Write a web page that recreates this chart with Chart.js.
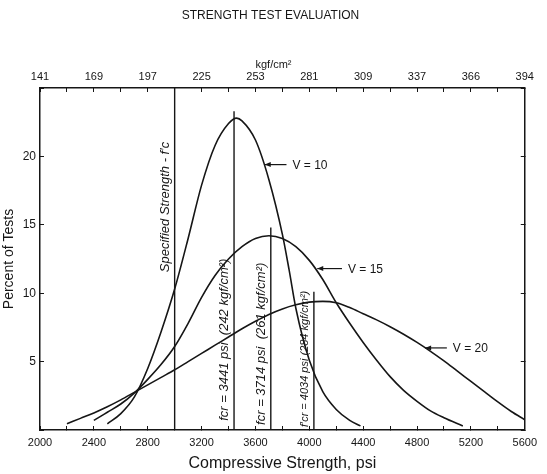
<!DOCTYPE html>
<html>
<head>
<meta charset="utf-8">
<script src="https://cdn.jsdelivr.net/npm/chart.js@4.4.1/dist/chart.umd.min.js"></script>
<style>
html,body{margin:0;padding:0;background:#fff;}
#wrap{width:547px;height:474px;}
</style>
</head>
<body>
<div id="wrap"><canvas id="strengthChart" width="547" height="474"></canvas></div>
<script>
// psi values, percent of tests for each curve
const v10Psi=[2500,2600,2700,2800,2900,3000,3100,3200,3300,3400,3460,3500,3600,3700,3800,3850,3900,4000,4100,4200,4300,4380];
const v10Pct=[0.45,1.2,2.4,4.5,7.2,10.3,14.0,17.9,20.8,22.4,22.8,22.6,21.2,18.3,14.3,11.7,8.9,5.1,2.8,1.5,0.7,0.3];

const v15Psi=[2400,2500,2600,2700,2800,2900,3000,3100,3200,3300,3400,3500,3600,3700,3800,3900,4000,4100,4200,4300,4400,4500,4600,4700,4800,4900,5000,5140];
const v15Pct=[0.7,1.3,1.9,2.7,3.7,4.8,6.1,7.8,9.7,11.3,12.5,13.4,14.0,14.2,14.0,13.4,12.4,11.0,9.3,7.8,6.4,5.1,3.9,2.9,2.1,1.4,0.9,0.3];

const v20Psi=[2200,2300,2400,2500,2600,2700,2800,2900,3000,3100,3200,3300,3400,3500,3600,3700,3800,3900,4000,4100,4200,4300,4400,4500,4600,4700,4800,4900,5000,5100,5200,5300,5400,5500,5600];
const v20Pct=[0.45,0.85,1.25,1.7,2.2,2.75,3.3,3.85,4.4,5.0,5.6,6.2,6.8,7.4,7.95,8.45,8.85,9.15,9.35,9.4,9.3,8.95,8.5,8.05,7.55,7.0,6.4,5.75,5.05,4.3,3.55,2.8,2.05,1.35,0.75];

// vertical lines: specified strength and required average strengths
const markerPsi=[3000,3441,3714,4034];
const markerTop=[25,23.3,14.8,10.1];
const markerText=["Specified Strength - f′c","fcr = 3441 psi  (242 kgf/cm²)","fcr = 3714 psi  (261 kgf/cm²)","f′cr = 4034 psi (284 kgf/cm²)"];
const markerTextMid=[16.3,6.6,6.3,5.2];

// curve labels: arrow tip on the curve and where the text starts
const curveNames=["V = 10","V = 15","V = 20"];
const curveTipPsi=[3669,4059,4860];
const curveTipPct=[19.4,11.8,6.0];
const curveTextPsi=[3875,4287,5066];

const psiTicks=[2000,2400,2800,3200,3600,4000,4400,4800,5200,5600];
const kgfTicks=[141,169,197,225,253,281,309,337,366,394];

function pts(xs,ys){ return xs.map((x,i)=>({x:x,y:ys[i]})); }

const ink="#161616";
const font="'Liberation Sans', Arial, sans-serif";

let datasets=[
  {data:pts(v10Psi,v10Pct)},
  {data:pts(v15Psi,v15Pct)},
  {data:pts(v20Psi,v20Pct)}
].map(d=>Object.assign(d,{borderColor:ink,borderWidth:1.6,pointRadius:0,cubicInterpolationMode:'monotone',fill:false}));

markerPsi.forEach((p,i)=>{
  datasets.push({data:[{x:p,y:0},{x:p,y:markerTop[i]}],borderColor:ink,borderWidth:1.4,pointRadius:0,tension:0,fill:false});
});

const textPlugin={
  id:'texts',
  afterDraw(chart){
    const ctx=chart.ctx, xs=chart.scales.x, ys=chart.scales.y;
    ctx.save();
    ctx.fillStyle=ink; ctx.strokeStyle=ink;
    ctx.textAlign='center'; ctx.textBaseline='middle';
    ctx.font="12px "+font;
    ctx.fillText("STRENGTH TEST EVALUATION",chart.width/2-3,16);
    ctx.font="11px "+font;
    ctx.fillText("kgf/cm²",chart.width/2,65);

    // rotated labels beside the vertical lines
    markerText.forEach((t,i)=>{
      const x=xs.getPixelForValue(markerPsi[i])-3;
      const y=ys.getPixelForValue(markerTextMid[i]);
      ctx.save();
      ctx.translate(x,y);
      ctx.rotate(-Math.PI/2);
      ctx.font="italic "+(i==3?"11px ":"13px ")+font;
      ctx.textAlign='center'; ctx.textBaseline='bottom';
      ctx.fillText(t,0,0);
      ctx.restore();
    });

    // V = .. labels with arrows pointing at the curves
    ctx.font="12px "+font;
    ctx.textAlign='left'; ctx.textBaseline='middle';
    ctx.lineWidth=1.2;
    curveNames.forEach((n,i)=>{
      const tx=xs.getPixelForValue(curveTipPsi[i]);
      const ty=ys.getPixelForValue(curveTipPct[i]);
      const sx=xs.getPixelForValue(curveTextPsi[i]);
      ctx.beginPath();
      ctx.moveTo(tx,ty); ctx.lineTo(sx-6,ty);
      ctx.stroke();
      ctx.beginPath();
      ctx.moveTo(tx,ty); ctx.lineTo(tx+6,ty-2.5); ctx.lineTo(tx+6,ty+2.5); ctx.closePath();
      ctx.fill();
      ctx.fillText(n,sx,ty+1);
    });
    ctx.restore();
  }
};

const tickFont={family:font,size:11};
const gridOpts={drawOnChartArea:false,tickLength:-4,color:ink,lineWidth:1};
const borderOpts={color:ink,width:1.5};

new Chart(document.getElementById('strengthChart'),{
  type:'line',
  data:{datasets:datasets},
  options:{
    responsive:false,
    animation:false,
    layout:{padding:0},
    plugins:{legend:{display:false},tooltip:{enabled:false}},
    scales:{
      x:{type:'linear',position:'bottom',min:2000,max:5600,
        ticks:{stepSize:200,autoSkip:false,maxRotation:0,padding:10,color:ink,font:tickFont,
          callback:v=>psiTicks.includes(v)?String(v):''},
        grid:gridOpts,border:borderOpts,
        title:{display:true,text:'Compressive Strength, psi',color:ink,font:{family:font,size:16},padding:{top:0,bottom:1}},
        afterFit:s=>{s.height=44;}},
      x2:{type:'linear',position:'top',min:2000,max:5600,
        ticks:{stepSize:200,autoSkip:false,maxRotation:0,padding:8,color:ink,font:tickFont,
          callback:v=>{const k=psiTicks.indexOf(v);return k>=0?String(kgfTicks[k]):'';}},
        grid:gridOpts,border:borderOpts,
        afterFit:s=>{s.height=88;}},
      y:{type:'linear',position:'left',min:0,max:25,
        ticks:{stepSize:5,padding:8,color:ink,font:{family:font,size:12},
          callback:v=>(v>0&&v<25)?String(v):''},
        grid:gridOpts,border:borderOpts,
        title:{display:true,text:'Percent of Tests',color:ink,font:{family:font,size:14},padding:{top:1,bottom:0}},
        afterFit:s=>{s.width=40;}},
      y2:{type:'linear',position:'right',min:0,max:25,
        ticks:{stepSize:5,display:false},
        grid:gridOpts,border:borderOpts,
        afterFit:s=>{s.width=20;}}
    }
  },
  plugins:[textPlugin]
});
</script>
</body>
</html>
